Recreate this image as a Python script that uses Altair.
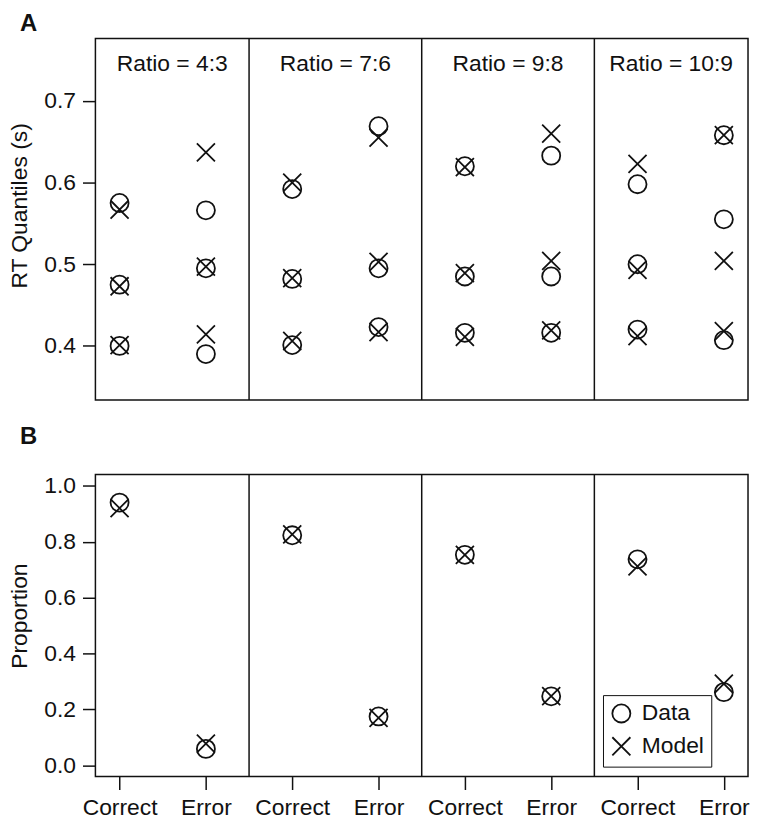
import altair as alt
import pandas as pd

FONT = "Liberation Sans, Arial, Helvetica, sans-serif"
INK = "#111111"

ratios = ["4:3", "7:6", "9:8", "10:9"]
responses = ["Correct", "Error"]
sources = ["Data", "Model"]

# RT quantiles (0.1, 0.5, 0.9) per ratio
rt_data_correct = [[0.400, 0.475, 0.575], [0.401, 0.482, 0.592], [0.416, 0.485, 0.620], [0.420, 0.500, 0.598]]
rt_model_correct = [[0.401, 0.473, 0.567], [0.406, 0.483, 0.600], [0.411, 0.489, 0.619], [0.412, 0.493, 0.623]]
rt_data_error = [[0.390, 0.495, 0.566], [0.423, 0.495, 0.669], [0.416, 0.485, 0.633], [0.407, 0.555, 0.658]]
rt_model_error = [[0.414, 0.497, 0.637], [0.417, 0.503, 0.655], [0.419, 0.504, 0.660], [0.418, 0.504, 0.658]]

# Response proportions per ratio
p_data_correct = [0.940, 0.823, 0.753, 0.737]
p_model_correct = [0.920, 0.826, 0.753, 0.712]
p_data_error = [0.059, 0.175, 0.247, 0.262]
p_model_error = [0.078, 0.170, 0.248, 0.292]

rt_y_ticks = [0.4, 0.5, 0.6, 0.7]
p_y_ticks = [0.0, 0.2, 0.4, 0.6, 0.8, 1.0]

x_domain = [0.72, 8.28]
rt_domain = [0.3336, 0.7764]
p_domain = [-0.04, 1.04]

# ---- build tables ----
rt_sets = {("Correct", "Data"): rt_data_correct, ("Correct", "Model"): rt_model_correct,
           ("Error", "Data"): rt_data_error, ("Error", "Model"): rt_model_error}
p_sets = {("Correct", "Data"): p_data_correct, ("Correct", "Model"): p_model_correct,
          ("Error", "Data"): p_data_error, ("Error", "Model"): p_model_error}

rt_rows, p_rows = [], []
for i, r in enumerate(ratios):
    for j, resp in enumerate(responses):
        pos = 2 * i + j + 1
        for src in sources:
            for v in rt_sets[(resp, src)][i]:
                rt_rows.append(dict(ratio=r, response=resp, pos=pos, source=src, value=v))
            p_rows.append(dict(ratio=r, response=resp, pos=pos, source=src, value=p_sets[(resp, src)][i]))
rt_df = pd.DataFrame(rt_rows)
p_df = pd.DataFrame(p_rows)

bounds = [x_domain[0]] + [2 * k + 0.5 for k in range(1, len(ratios))] + [x_domain[1]]
div_df = pd.DataFrame({"x": bounds[1:-1]})
title_df = pd.DataFrame({
    "x": [(bounds[k] + bounds[k + 1]) / 2 for k in range(len(ratios))],
    "label": ["Ratio = " + r for r in ratios],
})

shape_scale = alt.Scale(domain=sources, range=["circle", "M-1,-1L1,1M1,-1L-1,1"])
xscale = alt.Scale(domain=x_domain, nice=False, zero=False)

W = 657

# ---- Panel A ----
dividers_a = alt.Chart(div_df).mark_rule(color=INK, strokeWidth=1.5).encode(
    x=alt.X("x:Q", scale=xscale, axis=None)
)
titles_a = alt.Chart(title_df).mark_text(
    font=FONT, fontSize=23, color=INK, baseline="alphabetic", align="center"
).encode(x=alt.X("x:Q", scale=xscale, axis=None), y=alt.value(33), text="label:N")
points_a = alt.Chart(rt_df).mark_point(size=330, strokeWidth=1.8, color=INK, filled=False, opacity=1).encode(
    x=alt.X("pos:Q", scale=xscale, axis=None),
    y=alt.Y("value:Q", scale=alt.Scale(domain=rt_domain, nice=False, zero=False),
            axis=alt.Axis(values=rt_y_ticks, format=".1f", title="RT Quantiles (s)",
                          titleX=-76, titleY=168, titleBaseline="middle")),
    shape=alt.Shape("source:N", scale=shape_scale, legend=None),
)
label_a = alt.Chart(pd.DataFrame({"t": ["A"]})).mark_text(
    font=FONT, fontSize=24, fontWeight="bold", color=INK, align="left", baseline="top"
).encode(x=alt.value(-76), y=alt.value(-27), text="t:N")

panel_a = alt.layer(dividers_a, titles_a, points_a, label_a).properties(width=W, height=364)

# ---- Panel B ----
dividers_b = alt.Chart(div_df).mark_rule(color=INK, strokeWidth=1.5).encode(
    x=alt.X("x:Q", scale=xscale)
)
points_b = alt.Chart(p_df).mark_point(size=330, strokeWidth=1.8, color=INK, filled=False, opacity=1).encode(
    x=alt.X("pos:Q", scale=xscale,
            axis=alt.Axis(values=list(range(1, 9)), title=None,
                          labelExpr="datum.value % 2 == 1 ? 'Correct' : 'Error'",
                          tickSize=13, labelPadding=7)),
    y=alt.Y("value:Q", scale=alt.Scale(domain=p_domain, nice=False, zero=False),
            axis=alt.Axis(values=p_y_ticks, format=".1f", title="Proportion",
                          titleX=-76, titleY=142, titleBaseline="middle")),
    shape=alt.Shape("source:N", scale=shape_scale,
                    legend=alt.Legend(orient="none", legendX=511, legendY=222, title=None,
                                      labelFont=FONT, labelFontSize=23, labelColor=INK,
                                      symbolSize=330, symbolStrokeWidth=1.8,
                                      symbolStrokeColor=INK, symbolFillColor="transparent",
                                      strokeColor=INK, fillColor="white", padding=7,
                                      rowPadding=6, labelOffset=9, symbolOpacity=1)),
)
label_b = alt.Chart(pd.DataFrame({"t": ["B"]})).mark_text(
    font=FONT, fontSize=24, fontWeight="bold", color=INK, align="left", baseline="top"
).encode(x=alt.value(-76), y=alt.value(-50), text="t:N")

panel_b = alt.layer(dividers_b, points_b, label_b).properties(width=W, height=304)

chart = alt.vconcat(panel_a, panel_b, spacing=22).resolve_scale(shape="independent").properties(
    padding=0, background="white"
).configure_view(stroke=INK, strokeWidth=1.5).configure_axis(
    labelFont=FONT, titleFont=FONT, labelFontSize=23, titleFontSize=23,
    labelColor=INK, titleColor=INK, titleFontWeight="normal",
    tickColor=INK, tickWidth=1.5, tickSize=13, labelPadding=7,
    domain=False, grid=False,
)

chart.save("out.html", embed_options={"renderer": "svg", "actions": False})
